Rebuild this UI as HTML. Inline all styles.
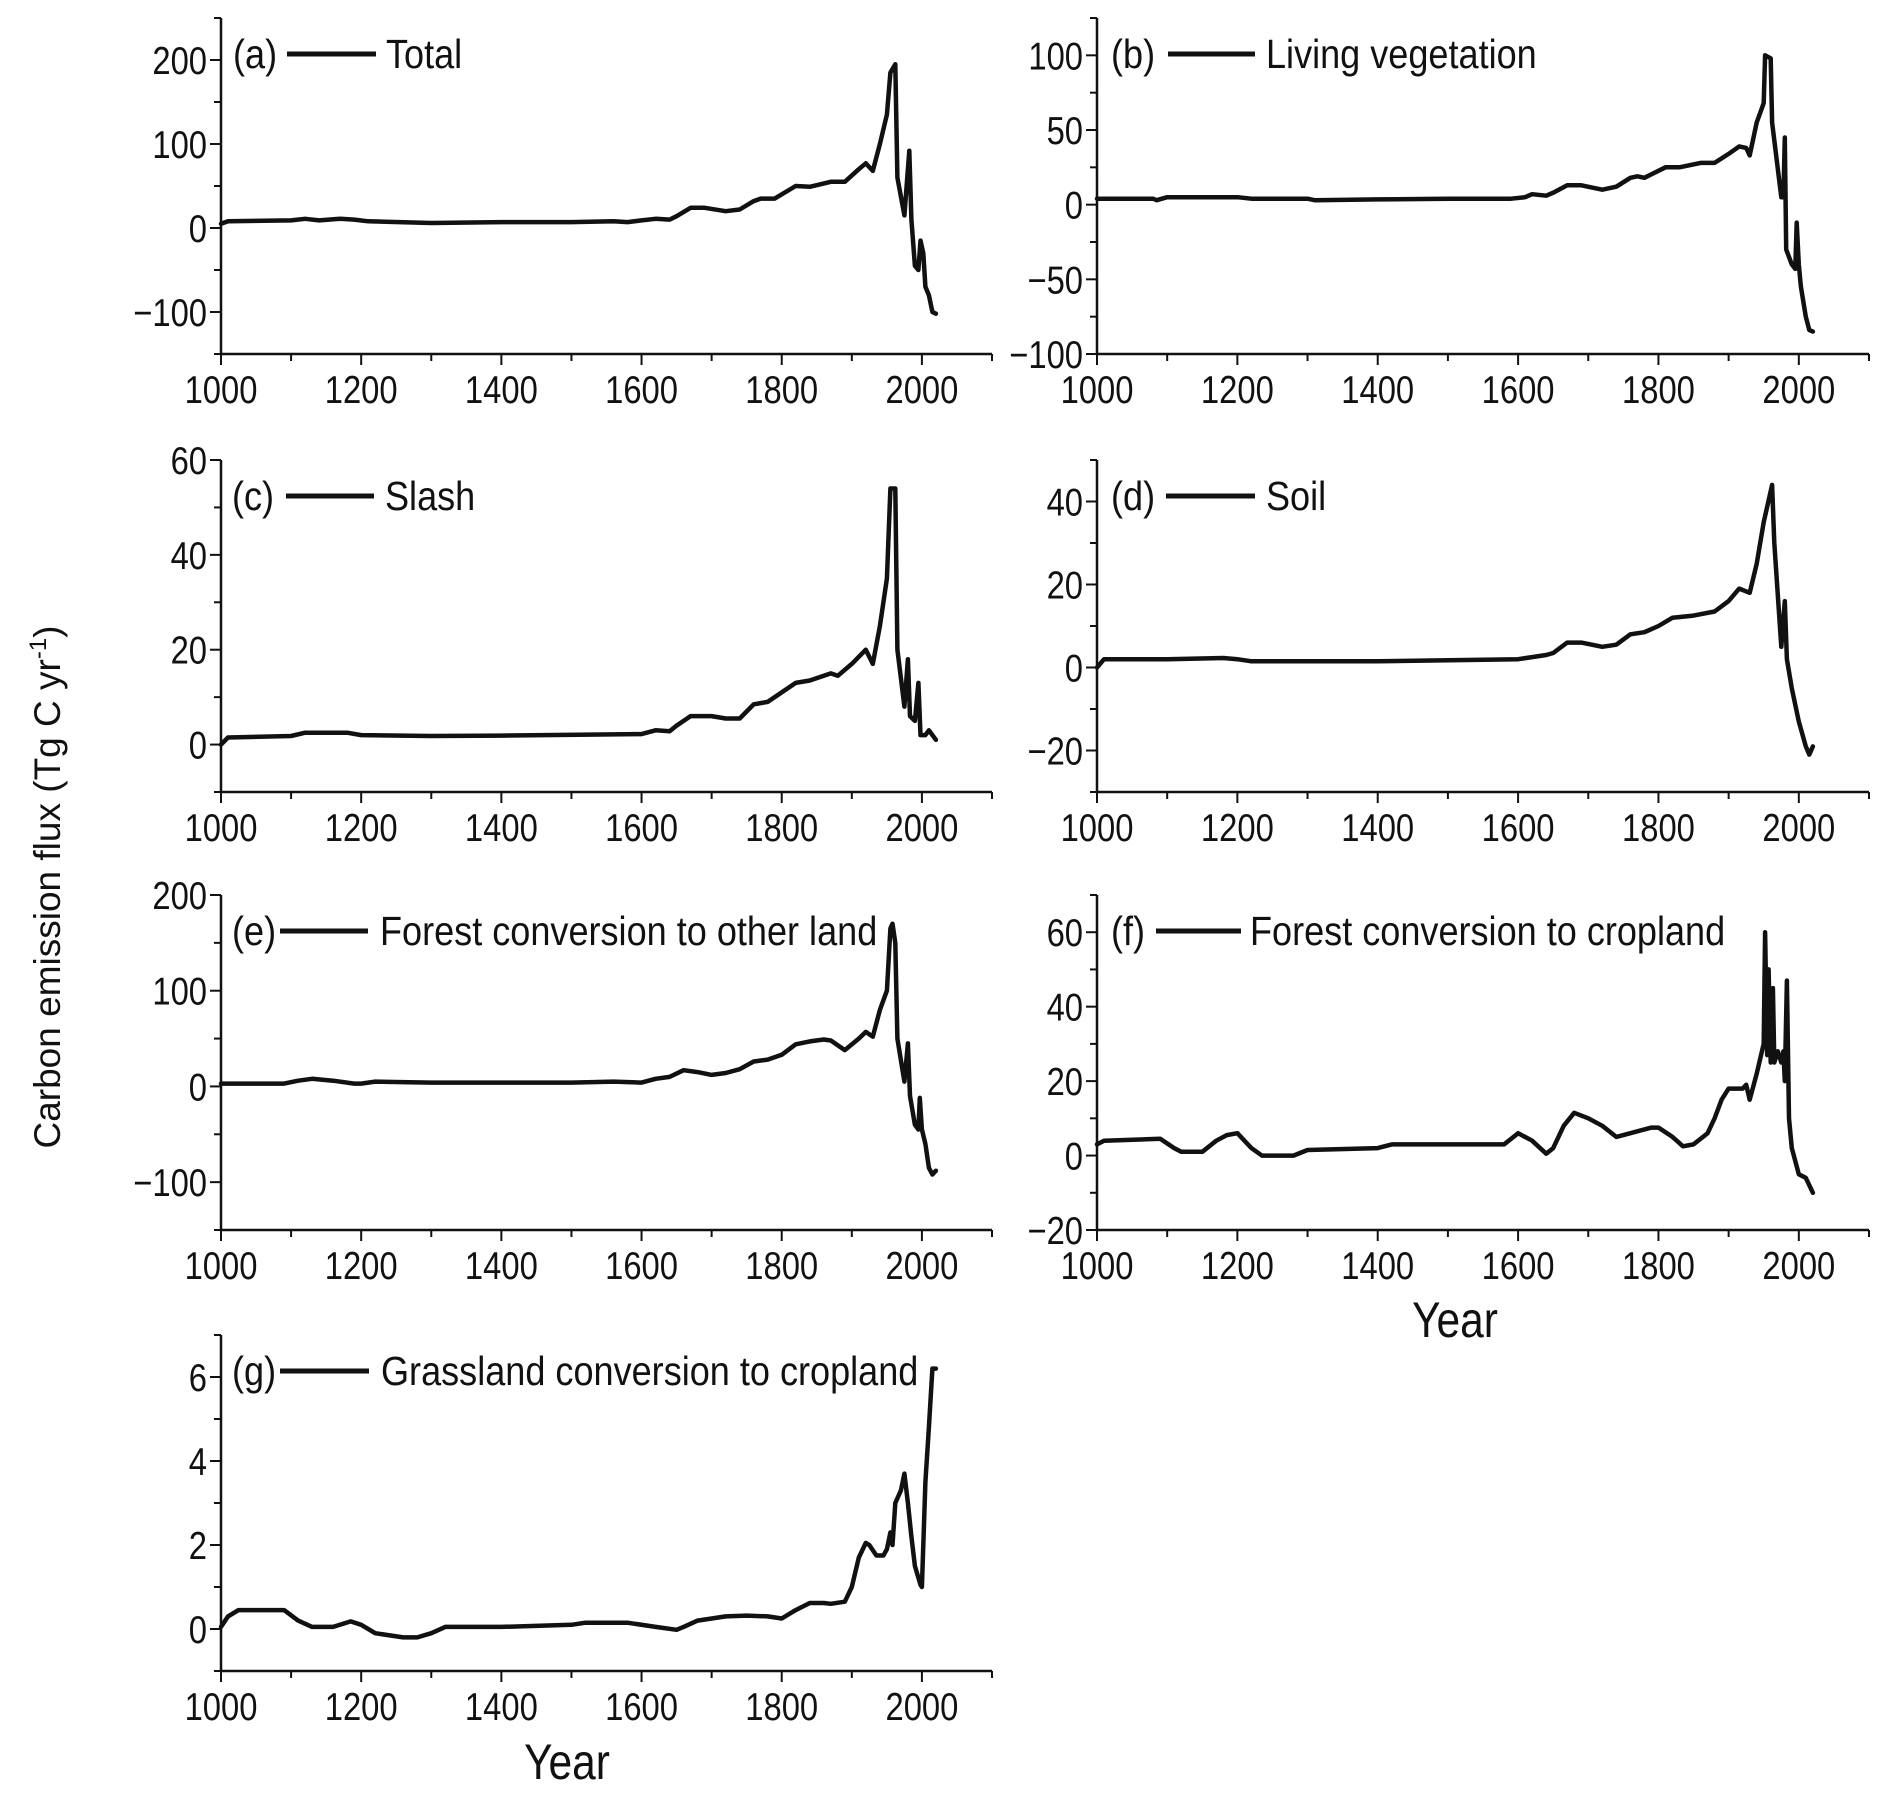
<!DOCTYPE html>
<html><head><meta charset="utf-8"><style>
html,body{margin:0;padding:0;background:#fff}
svg text{font-family:"Liberation Sans Narrow","Liberation Sans",sans-serif;fill:#111}
</style></head><body>
<svg id="chart" width="1892" height="1799" viewBox="0 0 1892 1799" xmlns="http://www.w3.org/2000/svg">
<text transform="translate(60,887) rotate(-90)" text-anchor="middle" style="font-family:'Liberation Sans',sans-serif;font-size:37px">Carbon emission flux (Tg C yr<tspan dy="-14" font-size="24">-1</tspan><tspan dy="14">)</tspan></text>
<text transform="translate(1455,1337) scale(0.85,1)" text-anchor="middle" font-size="50">Year</text>
<text transform="translate(567,1779) scale(0.85,1)" text-anchor="middle" font-size="50">Year</text>
</svg>
<script>
const yearsA=[1000,1010,1100,1120,1140,1170,1190,1210,1300,1400,1500,1560,1580,1600,1620,1640,1650,1670,1690,1720,1740,1760,1770,1790,1820,1840,1870,1890,1910,1920,1930,1940,1950,1955,1962,1965,1975,1982,1985,1990,1995,1998,2002,2005,2010,2015,2020];
const valuesA=[5,8,9,11,9,11,10,8,6,7,7,8,7,9,11,10,14,24,24,20,22,32,35,35,50,49,55,55,70,77,68,100,135,185,195,60,15,92,10,-45,-50,-15,-30,-70,-80,-100,-102];
const yearsB=[1000,1080,1085,1100,1200,1220,1300,1310,1400,1500,1590,1610,1620,1640,1650,1670,1690,1720,1740,1760,1770,1780,1810,1830,1860,1880,1900,1915,1925,1930,1940,1950,1952,1960,1962,1975,1978,1980,1982,1990,1995,1997,2000,2003,2010,2015,2020];
const valuesB=[4,4,3,5,5,4,4,3,3.5,4,4,5,7,6,8,13,13,10,12,18,19,18,25,25,28,28,34,39,38,33,55,68,100,98,55,5,5,45,-30,-40,-43,-12,-40,-55,-75,-84,-85];
const yearsC=[1000,1010,1100,1120,1180,1200,1300,1400,1600,1620,1640,1650,1670,1700,1720,1740,1760,1780,1790,1820,1840,1870,1880,1900,1920,1930,1940,1950,1955,1962,1965,1975,1980,1983,1990,1995,1998,2005,2010,2020];
const valuesC=[0,1.5,1.8,2.5,2.5,2,1.8,1.9,2.2,3,2.8,4,6,6,5.5,5.5,8.5,9,10,13,13.5,15,14.5,17,20,17,25,35,54,54,20,8,18,6,5,13,2,2,3,1];
const yearsD=[1000,1010,1100,1180,1200,1220,1300,1400,1600,1620,1640,1650,1670,1690,1720,1740,1760,1780,1800,1820,1850,1880,1900,1915,1930,1940,1950,1962,1965,1975,1980,1983,1990,2000,2010,2015,2020];
const valuesD=[0,2,2,2.3,2,1.5,1.5,1.5,2,2.5,3,3.5,6,6,5,5.5,8,8.5,10,12,12.5,13.5,16,19,18,25,35,44,30,5,16,2,-5,-13,-19,-21,-19];
const yearsE=[1000,1090,1110,1130,1160,1190,1200,1220,1300,1500,1560,1600,1620,1640,1660,1680,1700,1720,1740,1760,1780,1800,1820,1840,1860,1870,1890,1910,1920,1930,1940,1950,1955,1958,1962,1965,1975,1980,1983,1990,1995,1997,2000,2005,2010,2015,2020];
const valuesE=[3,3,6,8,6,3,3,5,4,4,5,4,8,10,17,15,12,14,18,26,28,33,44,47,49,48,38,50,57,52,80,100,165,170,150,50,5,45,-10,-40,-45,-12,-45,-60,-85,-92,-88];
const yearsF=[1000,1010,1090,1110,1120,1150,1170,1185,1200,1220,1235,1280,1300,1400,1420,1560,1580,1600,1620,1640,1650,1665,1680,1700,1720,1740,1760,1790,1800,1820,1835,1850,1870,1880,1890,1900,1920,1925,1930,1940,1950,1952,1955,1957,1960,1963,1965,1970,1975,1978,1980,1983,1986,1990,2000,2010,2020];
const valuesF=[3,4,4.5,2,1,1,4,5.5,6,2,0,0,1.5,2,3,3,3,6,4,0.5,2,8,11.5,10,8,5,6,7.5,7.5,5,2.5,3,6,10,15,18,18,19,15,22,30,60,27,50,25,45,25,28,25,28,20,47,10,2,-5,-6,-10];
const yearsG=[1000,1010,1025,1090,1110,1130,1160,1185,1200,1220,1260,1280,1300,1320,1400,1500,1520,1580,1620,1650,1660,1680,1720,1750,1780,1800,1820,1840,1860,1870,1890,1900,1910,1920,1925,1935,1945,1950,1955,1958,1960,1962,1970,1975,1980,1985,1990,1998,2000,2005,2010,2015,2020];
const valuesG=[0.05,0.3,0.45,0.45,0.2,0.05,0.05,0.18,0.1,-0.1,-0.2,-0.2,-0.1,0.05,0.05,0.1,0.15,0.15,0.05,-0.02,0.05,0.2,0.3,0.32,0.3,0.25,0.45,0.62,0.62,0.6,0.65,1.0,1.7,2.05,2.0,1.75,1.75,1.9,2.3,2.0,2.5,3.0,3.3,3.7,3.0,2.2,1.5,1.05,1.0,3.5,4.8,6.2,6.2];
const xTicks=[1000,1200,1400,1600,1800,2000];
const ticksA=[-100,0,100,200];
const ticksB=[-100,-50,0,50,100];
const ticksC=[0,20,40,60];
const ticksD=[-20,0,20,40];
const ticksE=[-100,0,100,200];
const ticksF=[-20,0,20,40,60];
const ticksG=[0,2,4,6];

const svg=document.getElementById('chart');
const NS='http://www.w3.org/2000/svg';
function mk(tag,attrs,parent){const e=document.createElementNS(NS,tag);for(const k in attrs)e.setAttribute(k,attrs[k]);parent.appendChild(e);return e;}
function txt(parent,x,y,sx,anchor,size){return mk('text',{transform:`translate(${x},${y}) scale(${sx},1)`,'text-anchor':anchor,'font-size':size},parent);}

const L={x0:221,x1:992},R={x0:1097,x1:1869};
const rows=[{t:18,b:354},{t:460,b:792},{t:895,b:1230},{t:1335,b:1671}];
const panels=[
 {id:'a',name:'Total',col:L,row:rows[0],ymin:-150,ymax:250,ticks:ticksA,minor:50,years:yearsA,vals:valuesA,lx:[233,287,376,386]},
 {id:'b',name:'Living vegetation',col:R,row:rows[0],ymin:-100,ymax:125,ticks:ticksB,minor:25,years:yearsB,vals:valuesB,lx:[1111,1168,1255,1266]},
 {id:'c',name:'Slash',col:L,row:rows[1],ymin:-10,ymax:60,ticks:ticksC,minor:10,years:yearsC,vals:valuesC,lx:[232,286,374,385]},
 {id:'d',name:'Soil',col:R,row:rows[1],ymin:-30,ymax:50,ticks:ticksD,minor:10,years:yearsD,vals:valuesD,lx:[1111,1166,1255,1266]},
 {id:'e',name:'Forest conversion to other land',col:L,row:rows[2],ymin:-150,ymax:200,ticks:ticksE,minor:50,years:yearsE,vals:valuesE,lx:[232,280,368,380]},
 {id:'f',name:'Forest conversion to cropland',col:R,row:rows[2],ymin:-20,ymax:70,ticks:ticksF,minor:10,years:yearsF,vals:valuesF,lx:[1111,1156,1241,1250]},
 {id:'g',name:'Grassland conversion to cropland',col:L,row:rows[3],ymin:-1,ymax:7,ticks:ticksG,minor:1,years:yearsG,vals:valuesG,lx:[232,280,369,381]}
];

panels.forEach(p=>{
  const g=mk('g',{},svg);
  
  
  const x0=p.col.x0,x1=p.col.x1,t=p.row.t,b=p.row.b;
  const xs=y=>x0+(y-1000)/(2100-1000)*(x1-x0);
  const ys=v=>b-(v-p.ymin)/(p.ymax-p.ymin)*(b-t);
  const ax=mk('path',{d:`M${x0},${t}V${b}H${x1}`,fill:'none',stroke:'#111','stroke-width':2.5},g);
  
  
  for(let yr=1000;yr<=2100;yr+=100){
    const major=xTicks.includes(yr);
    mk('line',{x1:xs(yr),x2:xs(yr),y1:b,y2:b+(major?11:7),stroke:'#111','stroke-width':2},g);
  }
  xTicks.forEach(yr=>{
    const tx=txt(g,xs(yr),b+49,0.84,'middle',39);
    tx.textContent=yr;
    
    
  });
  for(let v=p.ymin;v<=p.ymax+1e-9;v+=p.minor){
    const major=p.ticks.some(tk=>Math.abs(tk-v)<1e-9);
    mk('line',{x1:x0,x2:x0-(major?11:7),y1:ys(v),y2:ys(v),stroke:'#111','stroke-width':2},g);
  }
  p.ticks.forEach(v=>{
    const tx=txt(g,x0-14,ys(v)+14,0.84,'end',39);
    tx.textContent=v<0?'\u2212'+Math.abs(v):String(v);
    
    
  });
  const d=p.years.map((yr,i)=>(i?'L':'M')+xs(yr).toFixed(1)+','+ys(p.vals[i]).toFixed(1)).join('');
  const ln=mk('path',{d:d,fill:'none',stroke:'#111','stroke-width':4.5,'stroke-linejoin':'round','stroke-linecap':'round'},g);
  
  
  const ly=t+36;
  const lab=txt(g,p.lx[0],ly+14,0.88,'start',41);
  lab.textContent='('+p.id+')';
  
  
  const sw=mk('line',{x1:p.lx[1],x2:p.lx[2],y1:ly,y2:ly,stroke:'#111','stroke-width':5},g);
  
  
  const lt=txt(g,p.lx[3],ly+14,0.88,'start',41);
  lt.textContent=p.name;
  
  
});
</script>
</body></html>
